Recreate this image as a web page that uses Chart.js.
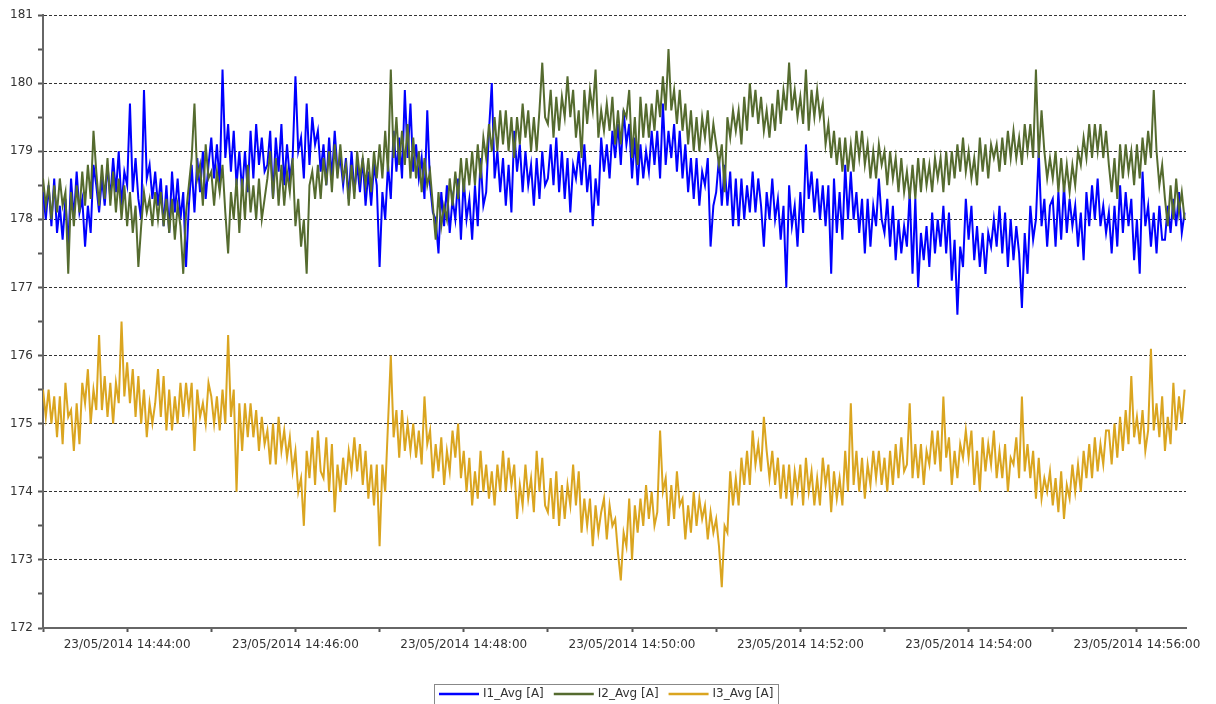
<!DOCTYPE html>
<html>
<head>
<meta charset="utf-8">
<script src="https://cdn.jsdelivr.net/npm/chart.js@4.4.1/dist/chart.umd.min.js"></script>
<style>
  html, body { margin: 0; padding: 0; background: #fff; }
  #wrap { width: 1216px; height: 704px; position: relative; }
</style>
</head>
<body>
<div id="wrap"><canvas id="currentChart"></canvas></div>
<script>
// time axis: seconds after 14:43:00, one sample every 2 s
const datePrefix = '23/05/2014';
const startClock = [14, 43, 0];
const sampleStep = 2;
const spanSeconds = 815;
const xLabelTimes = ['14:44:00', '14:46:00', '14:48:00', '14:50:00', '14:52:00', '14:54:00', '14:56:00'];
const yTickValues = [172, 173, 174, 175, 176, 177, 178, 179, 180, 181];

const seriesNames = ['I1_Avg [A]', 'I2_Avg [A]', 'I3_Avg [A]'];
const seriesColors = ['#0000ff', '#556b2f', '#daa520'];

const i1Avg = [
  178.4, 178.0, 178.5, 177.9, 178.6, 177.8, 178.2, 177.7, 178.3, 177.6, 178.6, 178.0, 178.7, 178.1, 178.3, 177.6, 178.2, 177.8, 178.8, 178.5,
  178.1, 178.6, 178.2, 178.8, 178.3, 178.9, 178.4, 179.0, 178.2, 178.7, 178.5, 179.7, 178.4, 178.9, 178.3, 178.0, 179.9, 178.6, 178.8, 178.3,
  178.7, 178.2, 178.6, 177.9, 178.5, 177.8, 178.7, 178.1, 178.6, 178.0, 178.4, 177.3, 178.2, 178.8, 178.1, 178.9, 178.4, 179.0, 178.3, 178.8,
  179.2, 178.6, 179.1, 178.5, 180.2, 178.9, 179.4, 178.7, 179.3, 178.5, 179.0, 178.4, 179.0, 178.4, 179.3, 178.6, 179.4, 178.8, 179.2, 178.7,
  178.8, 179.3, 178.3, 179.2, 178.7, 179.4, 178.5, 179.1, 178.6, 178.9, 180.1, 179.0, 179.2, 178.6, 179.7, 178.8, 179.5, 179.1, 179.3, 178.7,
  179.1, 178.5, 179.2, 178.6, 179.3, 178.7, 178.9, 178.5, 178.9, 178.3, 179.0, 178.4, 178.8, 178.4, 178.9, 178.2, 178.7, 178.2, 178.8, 178.5,
  177.3, 178.4, 178.0, 178.8, 178.3, 179.3, 178.7, 179.2, 178.6, 179.9, 178.9, 179.7, 178.7, 179.1, 178.6, 178.9, 178.3, 179.6, 178.5, 178.1,
  178.0, 177.5, 178.4, 177.9, 178.5, 177.8, 178.3, 178.0, 178.6, 177.7, 178.6, 178.0, 178.3, 177.7, 178.5, 177.9, 178.9, 178.2, 178.4, 179.3,
  180.0, 178.6, 179.0, 178.4, 178.9, 178.2, 178.8, 178.1, 179.3, 178.7, 179.1, 178.4, 179.0, 178.5, 178.8, 178.2, 178.9, 178.3, 179.0, 178.5,
  178.6, 179.1, 178.5, 179.2, 178.4, 179.0, 178.3, 178.9, 178.1, 178.8, 178.6, 179.0, 178.5, 179.1, 178.4, 178.8, 177.9, 178.6, 178.2, 179.2,
  178.7, 179.1, 178.6, 179.3, 178.9, 179.4, 178.8, 179.6, 179.1, 179.4, 178.6, 179.2, 178.5, 179.1, 178.6, 179.0, 178.7, 179.3, 178.8, 179.3,
  178.6, 179.7, 178.8, 179.3, 178.9, 179.4, 178.7, 179.3, 178.6, 179.1, 178.4, 178.9, 178.3, 178.9, 178.2, 178.7, 178.5, 178.9, 177.6, 178.2,
  178.4, 178.9, 178.2, 178.8, 178.2, 178.7, 177.9, 178.6, 177.9, 178.6, 178.0, 178.5, 178.1, 178.7, 178.1, 178.6, 178.2, 177.6, 178.4, 178.0,
  178.6, 178.0, 178.3, 177.7, 178.2, 177.0, 178.5, 177.9, 178.2, 177.6, 178.4, 177.8, 179.1, 178.3, 178.7, 178.1, 178.6, 178.0, 178.5, 177.9,
  178.5, 177.2, 178.6, 177.8, 178.4, 177.7, 178.8, 178.0, 178.7, 178.0, 178.4, 177.8, 178.3, 177.5, 178.3, 177.6, 178.2, 177.9, 178.6, 178.0,
  177.8, 178.3, 177.6, 178.2, 177.4, 178.0, 177.5, 177.9, 177.6, 178.4, 177.2, 178.3, 177.0, 177.8, 177.4, 177.9, 177.3, 178.1, 177.5, 178.0,
  177.6, 178.2, 177.5, 178.1, 177.1, 177.7, 176.6, 177.6, 177.3, 178.3, 177.7, 178.2, 177.4, 177.9, 177.3, 177.8, 177.2, 177.8, 177.6, 178.0,
  177.6, 178.2, 177.5, 178.1, 177.3, 178.0, 177.4, 177.9, 177.5, 176.7, 177.8, 177.2, 178.2, 177.7, 178.0, 179.0, 177.9, 178.3, 177.6, 178.2,
  178.3, 177.6, 178.4, 177.7, 178.5, 177.8, 178.3, 177.9, 178.2, 177.6, 178.1, 177.4, 178.4, 177.9, 178.5, 178.0, 178.6, 177.9, 178.2, 177.8,
  178.1, 177.5, 178.2, 177.6, 178.5, 177.8, 178.4, 177.9, 178.3, 177.4, 178.0, 177.2, 178.7, 177.9, 178.2, 177.6, 178.1, 177.5, 178.2, 177.7,
  177.7, 178.2, 177.8, 178.3, 177.9, 178.4, 177.8, 178.1
];

const i2Avg = [
  178.6, 178.2, 178.5, 178.0, 178.5, 178.1, 178.6, 178.2, 178.4, 177.2, 178.4, 177.9, 178.5, 178.1, 178.7, 178.2, 178.8, 178.3, 179.3, 178.7,
  178.2, 178.8, 178.3, 178.9, 178.2, 178.7, 178.1, 178.6, 178.0, 178.5, 177.9, 178.4, 177.8, 178.2, 177.3, 177.9, 178.4, 178.1, 178.3, 177.9,
  178.4, 178.0, 178.4, 177.9, 178.3, 177.8, 178.3, 177.7, 178.2, 177.9, 177.2, 178.1, 178.5, 178.9, 179.7, 178.6, 178.8, 178.2, 179.1, 178.6,
  178.7, 178.2, 178.7, 178.4, 178.8, 178.1, 177.5, 178.4, 178.0, 178.6, 177.8, 178.6, 178.0, 178.8, 178.1, 178.5, 178.0, 178.6, 178.0, 178.3,
  178.6, 179.0, 178.3, 178.9, 178.2, 178.8, 178.2, 178.7, 178.4, 178.9, 177.9, 178.3, 177.6, 178.0, 177.2, 178.5, 178.7, 178.3, 178.8, 178.3,
  178.9, 178.5, 179.0, 178.4, 179.1, 178.6, 179.1, 178.6, 178.8, 178.2, 178.8, 178.3, 179.0, 178.6, 178.9, 178.5, 178.9, 178.4, 179.0, 178.6,
  179.1, 178.6, 179.3, 178.7, 180.2, 178.9, 179.5, 178.8, 179.3, 178.8, 179.4, 178.6, 179.2, 178.6, 179.0, 178.4, 178.9, 178.5, 178.7, 178.2,
  177.7, 178.4, 177.9, 178.2, 178.0, 178.6, 178.2, 178.7, 178.3, 178.9, 178.4, 178.9, 178.5, 179.0, 178.5, 179.1, 178.6, 179.2, 178.9, 179.4,
  179.0, 179.5, 179.0, 179.6, 179.1, 179.6, 179.0, 179.5, 178.9, 179.5, 179.1, 179.7, 179.2, 179.6, 179.0, 179.5, 179.0, 179.6, 180.3, 179.5,
  179.4, 179.9, 179.2, 179.8, 179.3, 179.8, 179.5, 180.1, 179.5, 179.9, 179.2, 179.6, 178.9, 179.9, 179.4, 179.9, 179.6, 180.2, 179.2, 179.6,
  179.3, 179.7, 179.3, 179.8, 179.1, 179.6, 179.1, 179.6, 179.5, 179.9, 178.9, 179.5, 178.8, 179.8, 179.2, 179.7, 179.2, 179.7, 179.3, 179.9,
  179.5, 180.1, 179.6, 180.5, 179.6, 179.9, 179.4, 179.9, 179.3, 179.7, 179.1, 179.6, 179.0, 179.5, 179.0, 179.5, 179.2, 179.6, 179.0, 179.4,
  179.1, 178.8, 179.1, 178.4, 179.5, 179.2, 179.6, 179.3, 179.6, 179.1, 179.8, 179.3, 180.0, 179.5, 179.9, 179.4, 179.8, 179.3, 179.6, 179.2,
  179.7, 179.3, 179.9, 179.4, 179.9, 179.6, 180.3, 179.6, 179.9, 179.5, 179.8, 179.4, 180.2, 179.3, 179.9, 179.5, 179.9, 179.5, 179.7, 179.1,
  179.4, 178.9, 179.3, 178.8, 179.2, 178.7, 179.2, 178.7, 179.1, 178.7, 179.3, 178.9, 179.3, 178.8, 179.1, 178.6, 179.0, 178.6, 179.1, 178.8,
  179.0, 178.5, 179.0, 178.6, 178.9, 178.4, 178.9, 178.4, 178.7, 178.3, 178.8, 178.3, 178.9, 178.4, 178.9, 178.5, 178.8, 178.4, 178.9, 178.6,
  178.9, 178.4, 179.0, 178.5, 179.0, 178.6, 179.1, 178.7, 179.2, 178.7, 179.0, 178.6, 178.9, 178.5, 179.2, 178.7, 179.1, 178.6, 179.1, 178.9,
  179.1, 178.7, 179.2, 178.8, 179.3, 178.9, 179.3, 178.9, 179.2, 178.8, 179.4, 179.0, 179.4, 178.9, 180.2, 178.9, 179.6, 179.0, 178.6, 178.9,
  178.6, 179.0, 178.4, 178.9, 178.4, 178.8, 178.4, 178.8, 178.5, 179.0, 178.8, 179.2, 178.9, 179.4, 178.9, 179.4, 179.0, 179.4, 178.9, 179.3,
  178.8, 178.4, 178.9, 178.3, 179.1, 178.6, 179.1, 178.7, 179.0, 178.5, 179.1, 178.6, 179.2, 178.8, 179.3, 178.9, 179.9, 179.0, 178.5, 178.8,
  178.3, 177.9, 178.5, 178.0, 178.6, 178.1, 178.4, 178.0
];

const i3Avg = [
  175.5, 175.1, 175.5, 175.0, 175.4, 174.8, 175.4, 174.7, 175.6, 175.1, 175.2, 174.6, 175.3, 174.7, 175.6, 175.3, 175.8, 175.0, 175.5, 175.2,
  176.3, 175.2, 175.7, 175.1, 175.6, 175.0, 175.6, 175.3, 176.5, 175.4, 175.9, 175.3, 175.8, 175.1, 175.7, 175.0, 175.5, 174.8, 175.3, 175.0,
  175.3, 175.8, 175.1, 175.7, 174.9, 175.5, 174.9, 175.4, 175.0, 175.6, 175.1, 175.6, 175.2, 175.6, 174.6, 175.5, 175.1, 175.3, 175.0, 175.6,
  175.4, 175.0, 175.4, 174.9, 175.5, 175.0, 176.3, 175.1, 175.5, 174.0, 175.3, 174.6, 175.3, 174.8, 175.3, 174.8, 175.2, 174.6, 175.1, 174.7,
  174.9, 174.4, 175.0, 174.4, 175.1, 174.6, 174.9, 174.5, 174.8, 174.3, 174.6, 174.0, 174.2, 173.5, 174.6, 174.2, 174.8, 174.1, 174.9, 174.3,
  174.2, 174.8, 174.0, 174.7, 173.7, 174.4, 174.0, 174.5, 174.1, 174.6, 174.3, 174.8, 174.3, 174.7, 174.1, 174.6, 173.9, 174.4, 173.8, 174.4,
  173.2, 174.4, 174.0, 175.0, 176.0, 174.8, 175.2, 174.5, 175.2, 174.6, 175.0, 174.6, 175.0, 174.5, 174.9, 174.4, 175.4, 174.7, 174.9, 174.2,
  174.7, 174.3, 174.8, 174.1, 174.6, 174.3, 174.9, 174.5, 175.0, 174.2, 174.6, 174.0, 174.5, 173.8, 174.3, 173.9, 174.6, 174.0, 174.4, 173.9,
  174.3, 173.8, 174.4, 174.0, 174.6, 174.0, 174.5, 174.1, 174.4, 173.6, 174.1, 173.8, 174.4, 173.9, 174.2, 173.7, 174.6, 174.0, 174.5, 173.8,
  173.7, 174.2, 173.6, 174.3, 173.5, 174.1, 173.6, 174.1, 173.8, 174.4, 173.8, 174.3, 173.4, 173.9, 173.5, 173.9, 173.2, 173.8, 173.4, 173.7,
  173.9, 173.3, 173.8, 173.5, 173.6, 173.1, 172.7, 173.4, 173.2, 173.9, 173.0, 173.8, 173.4, 173.9, 173.5, 174.1, 173.6, 174.0, 173.5, 173.7,
  174.9, 174.0, 174.2, 173.5, 174.1, 173.6, 174.3, 173.8, 173.9, 173.3, 173.8, 173.4, 174.0, 173.5, 173.9, 173.6, 173.8, 173.3, 173.7, 173.4,
  173.6, 173.2, 172.6, 173.5, 173.4, 174.3, 173.8, 174.2, 173.8, 174.5, 174.1, 174.6, 174.1, 174.9, 174.4, 174.7, 174.3, 175.1, 174.6, 174.2,
  174.6, 174.1, 174.5, 173.9, 174.4, 173.9, 174.4, 173.8, 174.3, 174.0, 174.4, 173.8, 174.5, 174.0, 174.3, 173.8, 174.2, 173.8, 174.5, 174.1,
  174.4, 173.7, 174.3, 173.9, 174.2, 173.8, 174.6, 174.0, 175.3, 174.1, 174.6, 174.0, 174.5, 173.9, 174.4, 174.1, 174.6, 174.2, 174.6, 174.1,
  174.5, 174.0, 174.6, 174.1, 174.7, 174.2, 174.8, 174.3, 174.4, 175.3, 174.2, 174.7, 174.2, 174.7, 174.1, 174.6, 174.4, 174.9, 174.4, 174.9,
  174.3, 175.4, 174.5, 174.8, 174.1, 174.6, 174.2, 174.7, 174.5, 174.9, 174.5, 174.9, 174.1, 174.6, 174.0, 174.8, 174.3, 174.7, 174.4, 174.9,
  174.2, 174.6, 174.2, 174.7, 174.0, 174.5, 174.4, 174.8, 174.2, 175.4, 174.3, 174.7, 174.2, 174.6, 173.9, 174.5, 173.9, 174.2, 174.0, 174.3,
  173.8, 174.2, 173.7, 174.3, 173.6, 174.1, 173.9, 174.4, 174.0, 174.4, 174.0, 174.6, 174.2, 174.7, 174.2, 174.8, 174.3, 174.7, 174.4, 174.9,
  174.9, 174.4, 175.0, 174.5, 175.1, 174.6, 175.2, 174.7, 175.7, 174.8, 175.1, 174.7, 175.2, 174.6, 174.9, 176.1, 174.9, 175.3, 174.8, 175.4,
  174.6, 175.1, 174.7, 175.6, 174.9, 175.4, 175.0, 175.5
];

const fontFamily = '"DejaVu Sans", sans-serif';
const textColor = '#333';

function clockLabel(sec) {
  const s = startClock[0] * 3600 + startClock[1] * 60 + startClock[2] + sec;
  const hh = Math.floor(s / 3600), mm = Math.floor((s % 3600) / 60), ss = s % 60;
  const pad = n => String(n).padStart(2, '0');
  return pad(hh) + ':' + pad(mm) + ':' + pad(ss);
}

const toPoints = arr => arr.map((v, i) => ({ x: i * sampleStep, y: v }));

// legend drawn as a boxed strip under the axis, like the original
const boxedLegend = {
  id: 'boxedLegend',
  afterDraw(chart) {
    const ctx = chart.ctx;
    const sets = chart.data.datasets;
    const lineLen = 40, gap = 4, itemGap = 10, pad = 5;
    ctx.save();
    ctx.font = '12px ' + fontFamily;
    const widths = sets.map(ds => lineLen + gap + ctx.measureText(ds.label).width);
    const total = widths.reduce((a, b) => a + b, 0) + itemGap * (sets.length - 1) + pad * 2;
    const left = Math.round(606 - total / 2);
    const top = 684, midY = 694;
    ctx.strokeStyle = '#888';
    ctx.lineWidth = 1;
    ctx.strokeRect(left + 0.5, top + 0.5, Math.round(total), 30);
    let x = left + pad;
    sets.forEach((ds, i) => {
      ctx.strokeStyle = ds.borderColor;
      ctx.lineWidth = 2.5;
      ctx.beginPath();
      ctx.moveTo(x, midY);
      ctx.lineTo(x + lineLen, midY);
      ctx.stroke();
      ctx.fillStyle = textColor;
      ctx.textBaseline = 'middle';
      ctx.fillText(ds.label, x + lineLen + gap, midY);
      x += widths[i] + itemGap;
    });
    ctx.restore();
  }
};

const seriesData = [i1Avg, i2Avg, i3Avg];
const drawOrder = [1, 0, 2]; // green sits over blue

new Chart(document.getElementById('currentChart'), {
  type: 'line',
  data: {
    datasets: seriesData.map((vals, k) => ({
      label: seriesNames[k],
      data: toPoints(vals),
      borderColor: seriesColors[k],
      backgroundColor: seriesColors[k],
      borderWidth: 2,
      pointRadius: 0,
      tension: 0,
      order: drawOrder[k]
    }))
  },
  options: {
    responsive: true,
    maintainAspectRatio: false,
    animation: false,
    events: [],
    layout: { padding: { top: 15, right: 30, bottom: 36, left: 0 } },
    plugins: {
      legend: { display: false },
      tooltip: { enabled: false }
    },
    scales: {
      x: {
        type: 'linear',
        min: 0,
        max: spanSeconds,
        afterFit: s => { s.height = 40; },
        grid: { drawOnChartArea: false, drawTicks: true, tickLength: 4, tickColor: '#555', tickWidth: 2 },
        border: { color: '#666', width: 2 },
        ticks: {
          stepSize: 60,
          includeBounds: false,
          autoSkip: false,
          maxRotation: 0,
          padding: 6,
          color: textColor,
          font: { family: fontFamily, size: 12 },
          callback: v => {
            const t = clockLabel(v);
            return xLabelTimes.includes(t) ? datePrefix + ' ' + t : '';
          }
        }
      },
      y: {
        min: yTickValues[0],
        max: yTickValues[yTickValues.length - 1],
        afterFit: s => { s.width = 43; },
        grid: {
          color: c => (c.tick && Number.isInteger(c.tick.value)) ? '#333' : 'rgba(0,0,0,0)',
          lineWidth: 1,
          tickLength: 5,
          tickColor: '#555',
          tickWidth: 2
        },
        border: { color: '#666', width: 2, dash: [3, 2] },
        ticks: {
          stepSize: 0.5,
          autoSkip: false,
          padding: 5,
          color: textColor,
          font: { family: fontFamily, size: 12 },
          callback: v => yTickValues.includes(v) ? String(v) : ''
        }
      }
    }
  },
  plugins: [boxedLegend]
});
</script>
</body>
</html>
